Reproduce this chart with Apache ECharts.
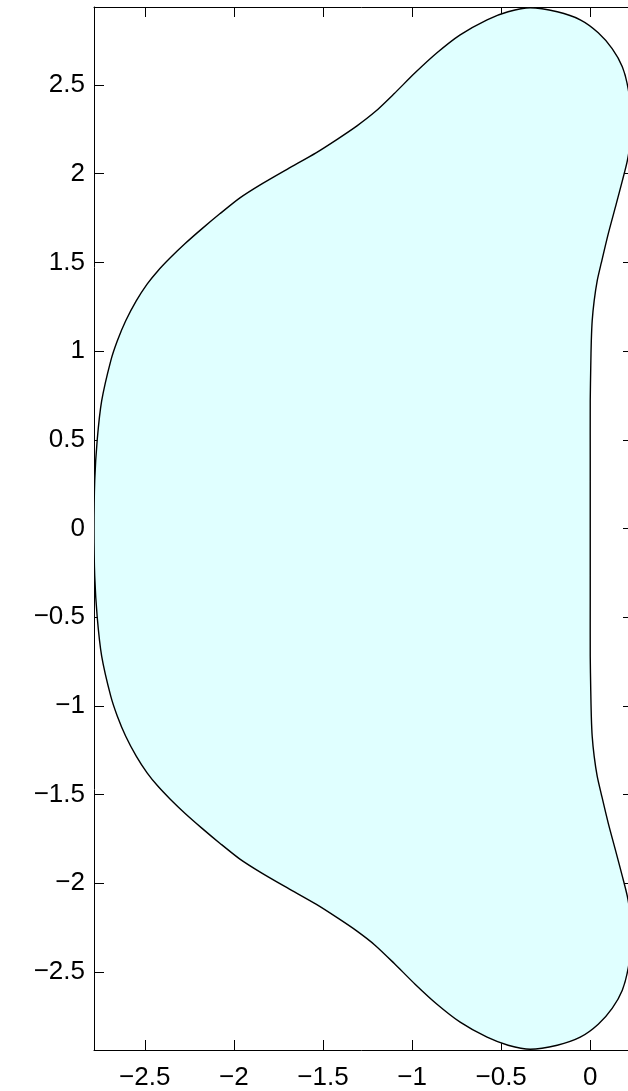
<!DOCTYPE html>
<html>
<head>
<meta charset="utf-8">
<script src="https://cdn.jsdelivr.net/npm/echarts@6/dist/echarts.min.js"></script>
<style>
  html, body { margin: 0; padding: 0; background: #fff; }
  #chart { width: 628px; height: 1091px; }
</style>
</head>
<body>
<div id="chart"></div>
<script>
// Boundary of the stability region, traced counter-clockwise starting at the
// leftmost point on the real axis (real part, imaginary part).
const boundaryRe = [
  -2.785, -2.781, -2.767, -2.742, -2.691, -2.654, -2.607, -2.548, -2.486, -2.427,
  -2.357, -2.275, -2.180, -2.079, -1.966, -1.843, -1.697, -1.539, -1.416, -1.309,
  -1.208, -1.101, -0.983, -0.860, -0.730, -0.579, -0.461, -0.337,
  -0.185, -0.056, 0.045, 0.124, 0.180, 0.213, 0.230, 0.225, 0.208, 0.180,
  0.146, 0.101, 0.062, 0.039, 0.022, 0.011, 0.006, 0.003, 0.000, 0.000, 0.000,
  0.000, 0.000, 0.003, 0.006, 0.011, 0.022, 0.039, 0.062, 0.101, 0.146,
  0.180, 0.208, 0.225, 0.230, 0.213, 0.180, 0.124, 0.045, -0.056, -0.185,
  -0.337, -0.461, -0.579, -0.730, -0.860, -0.983, -1.101, -1.208, -1.309, -1.416,
  -1.539, -1.697, -1.843, -1.966, -2.079, -2.180, -2.275, -2.357, -2.427, -2.486,
  -2.548, -2.607, -2.654, -2.691, -2.742, -2.767, -2.781
];
const boundaryIm = [
  0.000, 0.268, 0.499, 0.719, 0.945, 1.058, 1.171, 1.283, 1.379, 1.452,
  1.526, 1.605, 1.689, 1.774, 1.864, 1.943, 2.028, 2.118, 2.197, 2.270,
  2.349, 2.451, 2.569, 2.682, 2.783, 2.868, 2.913, 2.936,
  2.913, 2.868, 2.795, 2.704, 2.603, 2.479, 2.326, 2.185, 2.073, 1.960,
  1.830, 1.661, 1.497, 1.396, 1.283, 1.171, 1.058, 0.917, 0.719, 0.381, 0.000,
  -0.381, -0.719, -0.917, -1.058, -1.171, -1.283, -1.396, -1.497, -1.661, -1.830,
  -1.960, -2.073, -2.185, -2.326, -2.479, -2.603, -2.704, -2.795, -2.868, -2.913,
  -2.936, -2.913, -2.868, -2.783, -2.682, -2.569, -2.451, -2.349, -2.270, -2.197,
  -2.118, -2.028, -1.943, -1.864, -1.774, -1.689, -1.605, -1.526, -1.452, -1.379,
  -1.283, -1.171, -1.058, -0.945, -0.719, -0.499, -0.268
];

// Tick positions / labels
const xTicks = [-2.5, -2, -1.5, -1, -0.5, 0];
const yTicks = [-2.5, -2, -1.5, -1, -0.5, 0, 0.5, 1, 1.5, 2, 2.5];

const xRange = [-2.785, 0.24];
const yRange = [-2.94, 2.94];

const fmt = v => (v < 0 ? '\u2212' + String(-v) : String(v));

const boundary = boundaryRe.map((re, i) => [re, boundaryIm[i]]);

const labelFont = { fontFamily: 'Liberation Sans, Arial, sans-serif', fontSize: 26, color: '#000' };
const lineStyle = { color: '#000', width: 1 };

function xAxisDef(pos, showLabels) {
  return {
    type: 'value', position: pos, min: xRange[0], max: xRange[1],
    axisLine: { show: true, onZero: false, lineStyle },
    axisTick: { show: true, inside: true, length: 10, lineStyle, customValues: xTicks },
    axisLabel: Object.assign({ show: showLabels, margin: 15, customValues: xTicks, formatter: fmt }, labelFont),
    splitLine: { show: false }
  };
}
function yAxisDef(pos, showLabels) {
  return {
    type: 'value', position: pos, min: yRange[0], max: yRange[1],
    axisLine: { show: true, onZero: false, lineStyle },
    axisTick: { show: true, inside: true, length: 10, lineStyle, customValues: yTicks },
    axisLabel: Object.assign({ show: showLabels, margin: 9, customValues: yTicks, formatter: fmt }, labelFont),
    splitLine: { show: false }
  };
}

const chart = echarts.init(document.getElementById('chart'), null, { renderer: 'canvas' });
chart.setOption({
  animation: false,
  backgroundColor: '#fff',
  grid: { left: 94, top: 7, right: -5, bottom: 41, containLabel: false, outerBoundsMode: 'none' },
  xAxis: [xAxisDef('bottom', true), xAxisDef('top', false)],
  yAxis: [yAxisDef('left', true), yAxisDef('right', false)],
  series: [{
    type: 'custom',
    xAxisIndex: 0,
    yAxisIndex: 0,
    clip: true,
    data: [0],
    renderItem: function (params, api) {
      const pts = boundary.map(p => api.coord(p));
      return {
        type: 'polygon',
        shape: { points: pts, smooth: 0.25 },
        style: { fill: '#e0ffff', stroke: '#000', lineWidth: 1.4 }
      };
    }
  }]
});
</script>
</body>
</html>
